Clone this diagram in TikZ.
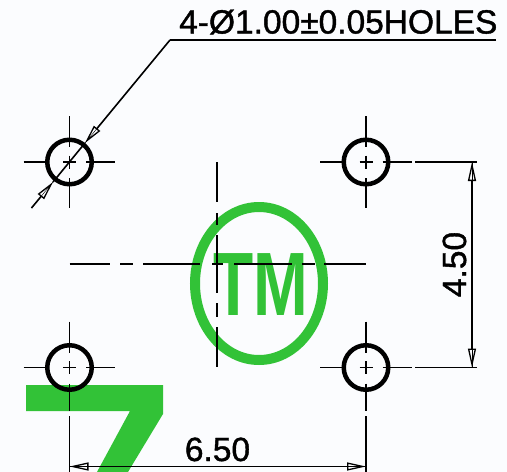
\documentclass[tikz,border=0pt]{standalone}
\usepackage{fontspec}
\setmainfont{Liberation Sans}
\newfontfamily\dimfont[FakeBold=1.2]{Liberation Sans}
\usetikzlibrary{
    positioning,
    arrows.meta,
    calc
}
\definecolor{paper}{HTML}{FBFCFE}
\definecolor{logo_green}{HTML}{32C237}

\begin{document}
\begin{tikzpicture}[
    x=1pt, y=-1pt,
    % Node styles
    hole/.style={circle, draw=black, line width=4.5pt, minimum size=44.5pt, inner sep=0pt, outer sep=0pt},
    dim_text/.style={inner sep=0pt, anchor=base, font=\fontsize{33.5pt}{36pt}\dimfont},
    logo_text/.style={inner sep=0pt, text=logo_green, font=\fontsize{90pt}{90pt}\selectfont\bfseries, xscale=.73, transform shape},
    % Line styles
    thin_line/.style={draw=black, line width=1.6pt},
    dim_arrow/.style={thin_line, preaction={draw, -}, {Triangle[open, length=19pt, width=8pt, line width=1.3pt]}-{Triangle[open, length=19pt, width=8pt, line width=1.3pt]}},
    leader_arrow/.style={thin_line, preaction={draw, -}, -{Triangle[open, length=19pt, width=8pt, line width=1.3pt]}}
]
\useasboundingbox (0,0) rectangle (507,472);
\fill[paper] (0,0) rectangle (507,472);

% --- green marks behind the drawing ---
\draw[logo_green, line width=10pt] (259,283.5) ellipse [x radius=64, y radius=76.5];
\node[logo_text] (logo_tm) at (260.5,284.5) {TM};
\fill[logo_green] (26,385) -- (163,385) -- (163,414) -- (128,472) -- (97,472) -- (130,411) -- (26,411) -- cycle;

% --- holes ---
\coordinate (c_tl) at (69.5,162);
\coordinate (c_tr) at (366,162);
\coordinate (c_bl) at (69.5,367.5);
\coordinate (c_br) at (366,367.5);

% centre lines of each hole
\foreach \c in {c_tl, c_tr, c_bl, c_br} {
    \draw[thin_line] ($(\c)+(-46,0)$) -- ($(\c)+(-21,0)$);
    \draw[thin_line] ($(\c)+(-6.5,0)$) -- ($(\c)+(6.5,0)$);
    \draw[thin_line] ($(\c)+(16.5,0)$) -- ($(\c)+(45.5,0)$);
    \draw[thin_line] ($(\c)+(0,-46)$) -- ($(\c)+(0,-15)$);
    \draw[thin_line] ($(\c)+(0,-6.5)$) -- ($(\c)+(0,6.5)$);
}
\draw[thin_line] ($(c_tl)+(0,16)$) -- ($(c_tl)+(0,46)$);
\draw[thin_line] ($(c_tr)+(0,16)$) -- ($(c_tr)+(0,46)$);
\draw[thin_line] ($(c_bl)+(0,16)$) -- ($(c_bl)+(0,43.5)$);
\draw[thin_line] ($(c_br)+(0,16)$) -- ($(c_br)+(0,43.5)$);

\node[hole] (hole_tl) at (c_tl) {};
\node[hole] (hole_tr) at (c_tr) {};
\node[hole] (hole_bl) at (c_bl) {};
\node[hole] (hole_br) at (c_br) {};

% --- centre lines of the part ---
\foreach \a/\b in {69.5/110, 120/133, 143/200, 212/223, 234/292, 302/315, 324/366} {
    \draw[thin_line] (\a,264) -- (\b,264);
}
\foreach \a/\b in {162/202, 213/225, 235/293, 303/317, 327/367} {
    \draw[thin_line] (217,\a) -- (217,\b);
}

% --- leader with the hole note ---
\node[dim_text, anchor=base west] (note) at (179,33.5) {4-Ø1.00±0.05HOLES};
\coordinate (note_end) at (496,40);
\coordinate (note_bend) at (170,40);
\coordinate (tip_out) at (85,143);
\coordinate (tip_in) at (53,182);
\coordinate (tail_in) at (31.5,208);
\draw[thin_line] (note_end) -- (note_bend);
\draw[leader_arrow] (note_bend) -- (tip_out);
\draw[leader_arrow] (tail_in) -- (tip_in);
\draw[thin_line] (tip_in) -- (tip_out);

% --- dimension 4.50 ---
\coordinate (ext_t0) at (415,162);
\coordinate (ext_t1) at (477,162);
\coordinate (ext_b0) at (415,367.5);
\coordinate (ext_b1) at (477,367.5);
\coordinate (dim_t) at (472,162);
\coordinate (dim_b) at (472,367.5);
\draw[thin_line] (ext_t0) -- (ext_t1);
\draw[thin_line] (ext_b0) -- (ext_b1);
\draw[dim_arrow] (dim_t) -- (dim_b);
\node[dim_text, rotate=90] (dim_h) at (466,264.5) {4.50};

% --- dimension 6.50 ---
\coordinate (ext_l0) at (69.5,416);
\coordinate (ext_l1) at (69.5,472);
\coordinate (ext_r0) at (366,416);
\coordinate (ext_r1) at (366,472);
\coordinate (dim_l) at (69.5,466.5);
\coordinate (dim_r) at (366,466.5);
\draw[thin_line] (ext_l0) -- (ext_l1);
\draw[thin_line] (ext_r0) -- (ext_r1);
\draw[dim_arrow] (dim_l) -- (dim_r);
\node[dim_text] (dim_w) at (217.5,461) {6.50};

\end{tikzpicture}
\end{document}
